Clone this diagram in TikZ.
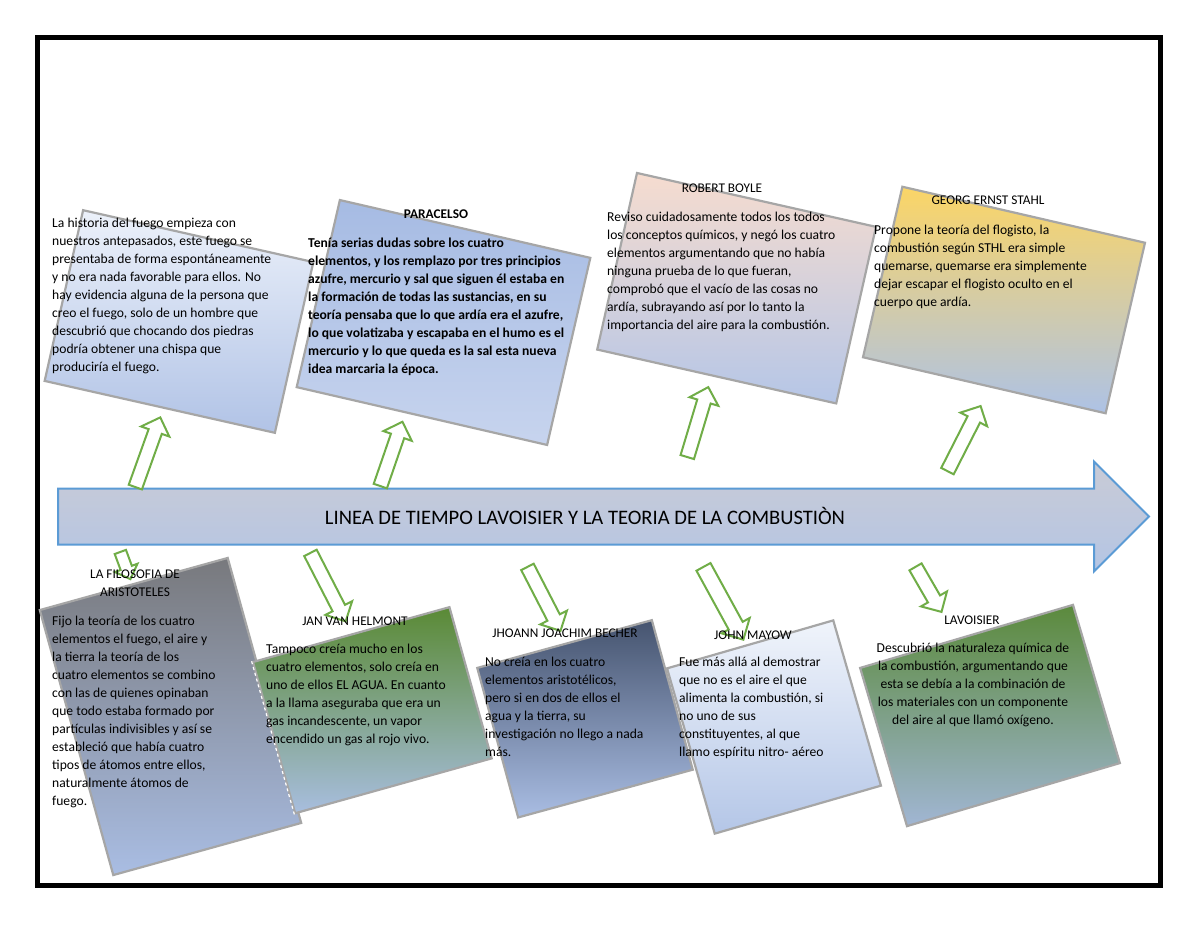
\documentclass[tikz,border=0pt]{standalone}
\usepackage{fontspec}
\setmainfont{Carlito}
\usetikzlibrary{shapes.arrows}
\definecolor{cardline}{HTML}{A6A6A6}
\definecolor{arrowgreen}{HTML}{70AD47}
\definecolor{arrowblue}{HTML}{5B9BD5}
\begin{document}
\begin{tikzpicture}[x=1pt,y=-1pt,
  card/.style={draw=cardline,line width=2.2pt,inner sep=0pt},
  garrow/.style={single arrow,draw=arrowgreen,fill=white,line width=2pt,inner xsep=0pt,inner ysep=6pt,single arrow head extend=8pt,anchor=tail},
  body/.style={font=\fontsize{13.6}{18}\selectfont,align=left,inner sep=0pt,anchor=north west},
  ttl/.style={font=\fontsize{13.3}{18}\selectfont,align=center,inner sep=0pt}]
\useasboundingbox (0,0) rectangle (1200,927);
\fill[white] (0,0) rectangle (1200,927);
\draw[line width=5pt] (37.5,37.5) rectangle (1160,885);

% timeline
\node[single arrow,draw=arrowblue,line width=2pt,top color={rgb,255:red,201;green,203;blue,214},bottom color={rgb,255:red,180;green,197;blue,228},inner xsep=0pt,inner ysep=27pt,single arrow head extend=27pt,minimum height=1091pt,anchor=tail] (timeline) at (57,516.5) {};

% upper cards
\node[card,minimum width=236pt,minimum height=175pt,rotate=-12.7,top color={rgb,255:red,236;green,241;blue,250},bottom color={rgb,255:red,177;green,195;blue,230}] (c1) at (179,321.5) {};
\node[card,minimum width=257pt,minimum height=192pt,rotate=-13,top color={rgb,255:red,166;green,187;blue,227},bottom color={rgb,255:red,199;green,212;blue,238}] (c2) at (443.5,322.5) {};
\node[card,minimum width=245pt,minimum height=181pt,rotate=-12.7,top color={rgb,255:red,246;green,220;blue,207},bottom color={rgb,255:red,181;green,198;blue,231}] (c3) at (736.6,288.2) {};
\node[card,minimum width=249pt,minimum height=175pt,rotate=-13,top color={rgb,255:red,251;green,213;blue,102},bottom color={rgb,255:red,173;green,194;blue,230}] (c4) at (1004,300) {};

% lower cards
\node[card,minimum width=195pt,minimum height=275pt,rotate=15.5,top color={rgb,255:red,120;green,121;blue,125},bottom color={rgb,255:red,169;green,189;blue,227}] (c5) at (170.5,716.5) {};
\node[card,minimum width=204pt,minimum height=157pt,rotate=15.6,top color={rgb,255:red,90;green,138;blue,53},bottom color={rgb,255:red,168;green,190;blue,223}] (c6) at (372.3,710.2) {};
\draw[white,line width=1.2pt,dash pattern=on 3pt off 3pt] (c6.north west) -- (c6.south west);
\node[card,minimum width=181pt,minimum height=155pt,rotate=15.3,top color={rgb,255:red,70;green,84;blue,111},bottom color={rgb,255:red,169;green,189;blue,227}] (c7) at (585,718.8) {};
\node[card,minimum width=173pt,minimum height=172pt,rotate=16.1,top color={rgb,255:red,240;green,244;blue,251},bottom color={rgb,255:red,180;green,198;blue,231}] (c8) at (774,727) {};
\node[card,minimum width=222pt,minimum height=165pt,rotate=16.5,top color={rgb,255:red,91;green,138;blue,60},bottom color={rgb,255:red,161;green,182;blue,212}] (c9) at (990,715.5) {};

% green arrows
\node[garrow,minimum height=74pt,rotate=70.3] (a1) at (135,488) {};
\node[garrow,minimum height=68pt,rotate=71] (a2) at (380,487) {};
\node[garrow,minimum height=73pt,rotate=73.3] (a3) at (687,458) {};
\node[garrow,minimum height=73pt,rotate=63] (a4) at (947,472) {};
\node[garrow,minimum height=29pt,rotate=-69.7,inner ysep=5pt,single arrow head extend=6pt] (a5) at (120,551) {};
\node[garrow,minimum height=77pt,rotate=-62.8] (a6) at (310,552) {};
\node[garrow,minimum height=72pt,rotate=-62.7] (a7) at (527,566) {};
\node[garrow,minimum height=83pt,rotate=-61.3,inner ysep=7pt] (a8) at (703,566) {};
\node[garrow,minimum height=52pt,rotate=-60] (a9) at (915,566) {};

% timeline title
\node[font=\fontsize{20.6}{24}\selectfont,inner sep=0pt] (title) at (585,516) {LINEA DE TIEMPO LAVOISIER Y LA TEORIA DE LA COMBUSTIÒN};

% texts
\node[body] (t1) at (52,218) {La historia del fuego empieza con\\nuestros antepasados, este fuego se\\presentaba de forma espontáneamente\\y no era nada favorable para ellos. No\\hay evidencia alguna de la persona que\\creo el fuego, solo de un hombre que\\descubrió que chocando dos piedras\\podría obtener una chispa que\\produciría el fuego.};

\node[ttl,font=\fontsize{13.3}{18}\selectfont\bfseries] (h2) at (436,214) {PARACELSO};
\node[body,font=\fontsize{13.6}{18}\selectfont\bfseries] (t2) at (308,238) {Tenía serias dudas sobre los cuatro\\elementos, y los remplazo por tres principios\\azufre, mercurio y sal que siguen él estaba en\\la formación de todas las sustancias, en su\\teoría pensaba que lo que ardía era el azufre,\\lo que volatizaba y escapaba en el humo es el\\mercurio y lo que queda es la sal esta nueva\\idea marcaria la época.};

\node[ttl] (h3) at (722,188) {ROBERT BOYLE};
\node[body] (t3) at (607,212) {Reviso cuidadosamente todos los todos\\los conceptos químicos, y negó los cuatro\\elementos argumentando que no había\\ninguna prueba de lo que fueran,\\comprobó que el vacío de las cosas no\\ardía, subrayando así por lo tanto la\\importancia del aire para la combustión.};

\node[ttl] (h4) at (988,200) {GEORG ERNST STAHL};
\node[body] (t4) at (874,225) {Propone la teoría del flogisto, la\\combustión según STHL era simple\\quemarse, quemarse era simplemente\\dejar escapar el flogisto oculto en el\\cuerpo que ardía.};

\node[ttl] (h5) at (135,583) {LA FILOSOFIA DE\\ARISTOTELES};
\node[body] (t5) at (52,616) {Fijo la teoría de los cuatro\\elementos el fuego, el aire y\\la tierra la teoría de los\\cuatro elementos se combino\\con las de quienes opinaban\\que todo estaba formado por\\partículas indivisibles y así se\\estableció que había cuatro\\tipos de átomos entre ellos,\\naturalmente átomos de\\fuego.};

\node[ttl] (h6) at (355,621) {JAN VAN HELMONT};
\node[body] (t6) at (266,644) {Tampoco creía mucho en los\\cuatro elementos, solo creía en\\uno de ellos EL AGUA. En cuanto\\a la llama aseguraba que era un\\gas incandescente, un vapor\\encendido un gas al rojo vivo.};

\node[ttl] (h7) at (565,633) {JHOANN JOACHIM BECHER};
\node[body] (t7) at (485,657) {No creía en los cuatro\\elementos aristotélicos,\\pero si en dos de ellos el\\agua y la tierra, su\\investigación no llego a nada\\más.};

\node[ttl] (h8) at (753,635) {JOHN MAYOW};
\node[body] (t8) at (679,657) {Fue más allá al demostrar\\que no es el aire el que\\alimenta la combustión, si\\no uno de sus\\constituyentes, al que\\llamo espíritu nitro- aéreo};

\node[ttl] (h9) at (972,620) {LAVOISIER};
\node[body,align=center,anchor=north] (t9) at (973,643) {Descubrió la naturaleza química de\\la combustión, argumentando que\\esta se debía a la combinación de\\los materiales con un componente\\del aire al que llamó oxígeno.};
\end{tikzpicture}
\end{document}
